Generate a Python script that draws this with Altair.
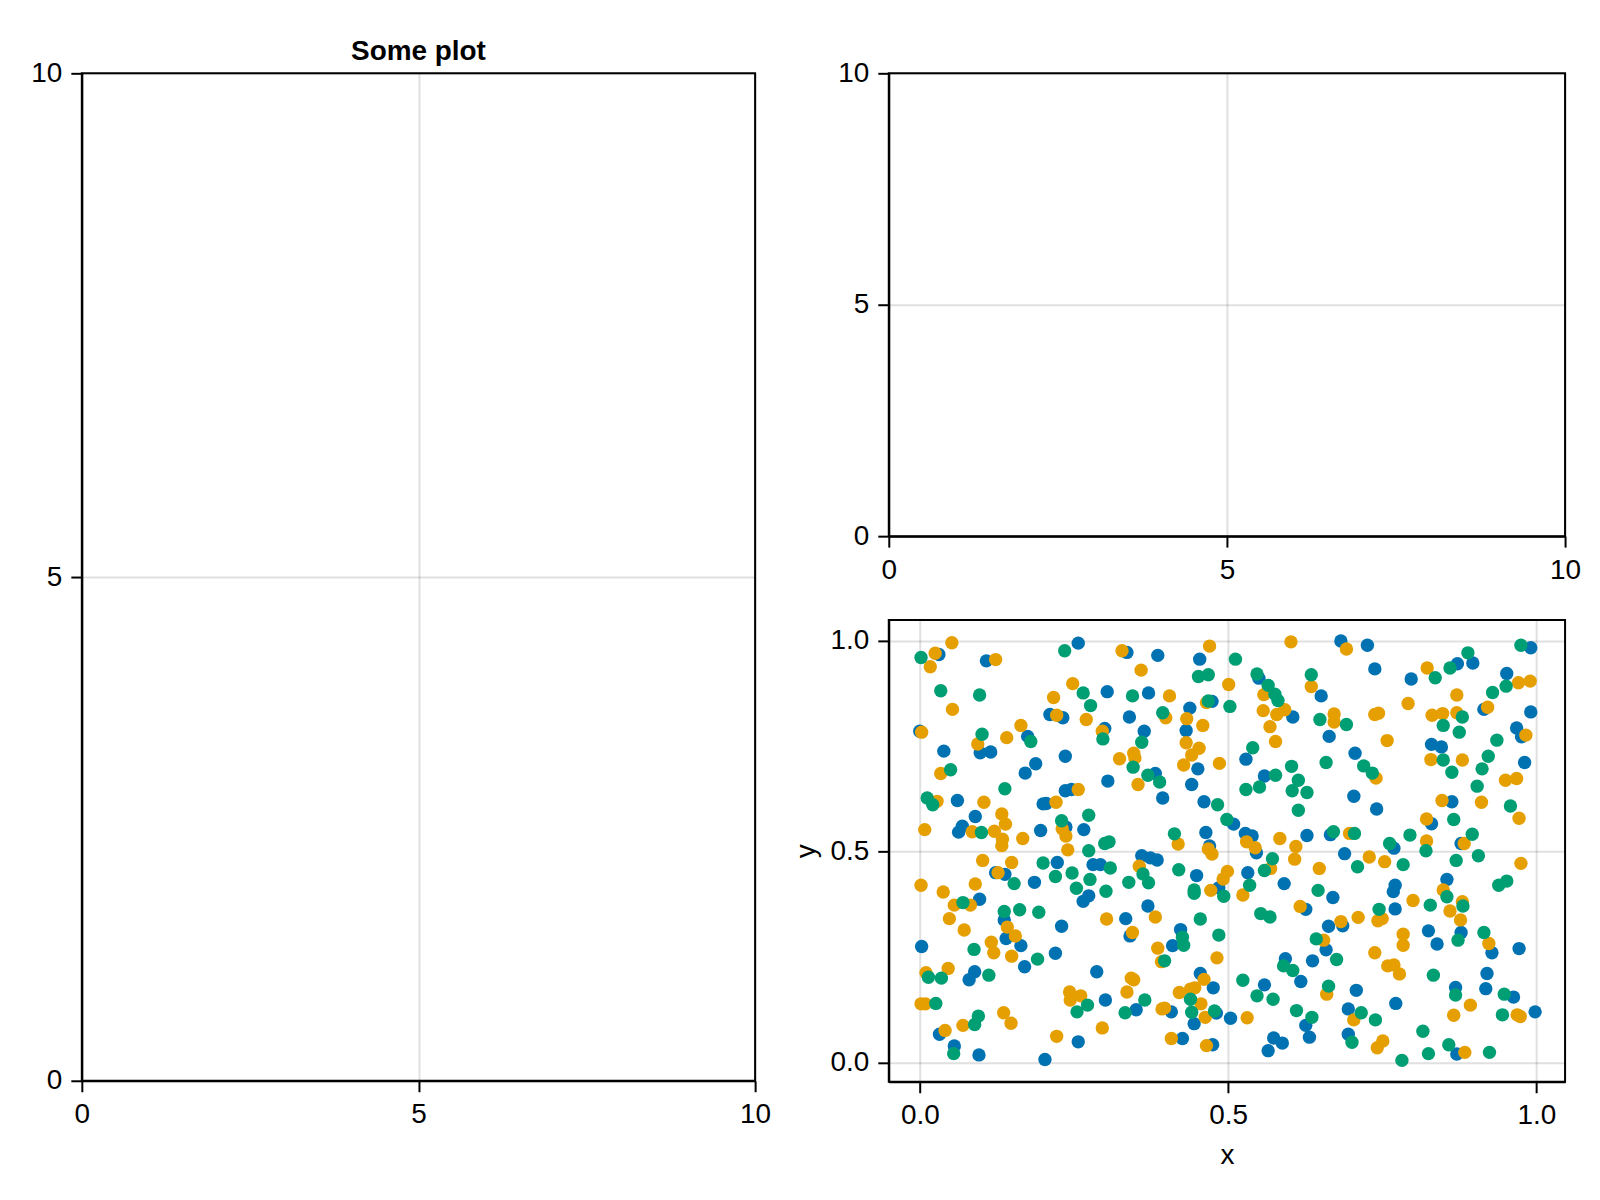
import altair as alt
import pandas as pd

# ---- data ----
limits = [0, 10]
panel_ticks = [0, 5, 10]
scatter_ticks = [0.0, 0.5, 1.0]
left_title = "Some plot"

blue_x = [0.031,0.108,0.257,0.304,0.211,0.232,0.300,0.000,0.175,0.098,0.115,0.039,0.236,0.188,0.171,
          0.336,0.386,0.454,0.550,0.371,0.474,0.651,0.438,0.340,0.605,0.364,0.432,0.664,0.529,0.451,0.382,0.559,
          0.683,0.726,0.738,0.872,0.897,0.797,0.991,0.952,0.915,0.991,0.968,0.976,0.830,0.846,0.706,0.981,
          0.305,0.236,0.246,0.061,0.200,0.205,0.090,0.069,0.063,0.196,0.237,0.266,0.223,0.281,0.293,0.123,0.138,0.186,0.274,0.265,0.097,0.137,0.230,
          0.441,0.394,0.461,0.509,0.464,0.470,0.528,0.539,0.546,0.628,0.666,0.360,0.374,0.385,0.449,0.485,0.532,0.591,0.670,0.370,0.334,0.626,0.663,0.423,
          0.704,0.741,0.863,0.830,0.769,0.878,0.689,0.855,0.771,0.768,0.771,0.686,0.825,0.878,
          0.140,0.164,0.003,0.220,0.170,0.089,0.080,0.287,0.301,0.032,0.056,0.096,0.203,0.257,
          0.341,0.410,0.455,0.351,0.408,0.476,0.445,0.481,0.426,0.475,0.504,0.559,0.593,0.618,0.637,0.659,0.626,0.632,0.574,0.588,0.565,
          0.839,0.928,0.972,0.920,0.869,0.918,0.963,0.708,0.695,0.772,0.998,0.695,0.871]
blue_y = [0.967,0.952,0.994,0.879,0.825,0.817,0.792,0.785,0.773,0.734,0.736,0.738,0.726,0.708,0.686,
          0.972,0.965,0.956,0.911,0.876,0.856,0.869,0.840,0.819,0.819,0.785,0.787,0.773,0.719,0.696,0.685,0.679,
          0.999,0.989,0.933,0.945,0.947,0.909,0.983,0.922,0.837,0.831,0.793,0.772,0.754,0.748,0.733,0.711,
          0.667,0.644,0.647,0.621,0.613,0.614,0.583,0.560,0.546,0.550,0.558,0.552,0.474,0.469,0.469,0.450,0.446,0.427,0.395,0.382,0.387,0.338,0.323,
          0.659,0.627,0.618,0.565,0.545,0.513,0.543,0.537,0.497,0.538,0.540,0.490,0.485,0.480,0.443,0.414,0.450,0.424,0.391,0.371,0.341,0.363,0.323,0.315,
          0.631,0.601,0.618,0.566,0.508,0.519,0.495,0.434,0.420,0.405,0.364,0.324,0.312,0.308,
          0.294,0.277,0.275,0.259,0.227,0.215,0.196,0.215,0.148,0.067,0.039,0.018,0.007,0.049,
          0.300,0.277,0.211,0.125,0.120,0.177,0.092,0.117,0.057,0.042,0.105,0.184,0.246,0.192,0.241,0.267,0.088,0.060,0.058,0.046,0.028,
          0.281,0.260,0.270,0.211,0.178,0.175,0.155,0.171,0.127,0.140,0.120,0.067,0.020]

orange_x = [0.052,0.025,0.017,0.123,0.053,0.248,0.217,0.222,0.270,0.296,0.003,0.164,0.141,0.094,0.034,
            0.328,0.470,0.602,0.359,0.635,0.501,0.405,0.465,0.558,0.399,0.433,0.557,0.579,0.592,0.672,0.672,0.459,0.568,0.432,0.453,0.441,0.577,0.324,0.347,0.349,0.428,0.486,
            0.692,0.823,0.971,0.990,0.871,0.792,0.738,0.744,0.831,0.848,0.871,0.921,0.983,0.758,0.829,0.880,
            0.257,0.028,0.104,0.221,0.133,0.139,0.008,0.085,0.121,0.134,0.133,0.167,0.231,0.237,0.240,0.102,0.149,0.127,0.002,0.038,0.090,0.056,0.082,0.048,0.303,0.072,0.142,
            0.354,0.419,0.468,0.474,0.530,0.544,0.584,0.610,0.608,0.356,0.499,0.492,0.472,0.569,0.524,0.648,0.382,0.617,0.683,0.345,
            0.740,0.950,0.968,0.847,0.911,0.972,0.822,0.697,0.822,0.883,0.729,0.754,0.975,0.849,0.800,0.880,0.860,0.877,0.711,0.743,0.750,
            0.155,0.116,0.120,0.149,0.046,0.010,0.002,0.009,0.243,0.244,0.261,0.136,0.148,0.070,0.041,0.222,0.296,
            0.386,0.392,0.482,0.461,0.343,0.347,0.336,0.393,0.397,0.421,0.439,0.446,0.456,0.463,0.408,0.465,0.531,0.655,0.660,
            0.784,0.923,0.784,0.738,0.759,0.769,0.778,0.704,0.893,0.866,0.969,0.974,0.751,0.742,0.884]
orange_y = [0.995,0.970,0.938,0.955,0.837,0.898,0.865,0.823,0.813,0.785,0.783,0.799,0.770,0.755,0.685,
            0.976,0.987,0.997,0.930,0.891,0.896,0.869,0.853,0.872,0.817,0.815,0.834,0.825,0.836,0.826,0.807,0.799,0.796,0.758,0.745,0.729,0.761,0.720,0.733,0.722,0.705,0.709,
            0.980,0.935,0.900,0.904,0.871,0.851,0.825,0.828,0.823,0.827,0.829,0.842,0.776,0.763,0.718,0.717,
            0.647,0.619,0.617,0.617,0.589,0.565,0.552,0.547,0.548,0.529,0.514,0.531,0.554,0.537,0.504,0.479,0.474,0.450,0.420,0.404,0.423,0.373,0.373,0.341,0.340,0.314,0.321,
            0.659,0.518,0.506,0.494,0.523,0.509,0.531,0.512,0.482,0.465,0.453,0.435,0.408,0.460,0.397,0.460,0.345,0.370,0.334,0.308,
            0.674,0.669,0.673,0.621,0.617,0.579,0.577,0.543,0.525,0.519,0.487,0.476,0.472,0.409,0.384,0.381,0.359,0.338,0.344,0.336,0.341,
            0.300,0.285,0.260,0.252,0.223,0.213,0.139,0.139,0.167,0.148,0.158,0.118,0.093,0.088,0.076,0.062,0.082,
            0.271,0.239,0.248,0.197,0.200,0.196,0.167,0.127,0.129,0.166,0.174,0.177,0.139,0.107,0.057,0.040,0.106,0.290,0.162,
            0.304,0.282,0.278,0.260,0.229,0.231,0.210,0.101,0.136,0.112,0.113,0.109,0.051,0.035,0.024]

green_x = [0.002,0.235,0.034,0.097,0.265,0.277,0.297,0.101,0.180,0.050,
           0.512,0.452,0.468,0.547,0.565,0.635,0.345,0.468,0.576,0.581,0.503,0.394,0.649,0.360,0.346,0.540,0.603,0.659,0.370,0.577,
           0.889,0.860,0.836,0.975,0.951,0.929,0.692,0.880,0.849,0.875,0.936,0.720,0.734,0.849,0.922,0.912,0.863,
           0.138,0.012,0.021,0.230,0.274,0.100,0.300,0.307,0.274,0.200,0.309,0.220,0.247,0.276,0.153,0.254,0.302,0.070,0.137,0.162,0.193,
           0.389,0.483,0.529,0.551,0.614,0.604,0.628,0.614,0.498,0.413,0.671,0.362,0.371,0.339,0.420,0.493,0.445,0.445,0.572,0.559,0.535,0.646,0.455,0.553,0.568,
           0.904,0.958,0.866,0.705,0.795,0.762,0.821,0.896,0.710,0.784,0.870,0.906,0.939,0.952,0.855,0.828,0.745,0.881,0.915,
           0.088,0.191,0.014,0.035,0.112,0.026,0.272,0.255,0.095,0.089,0.055,
           0.426,0.428,0.485,0.397,0.365,0.333,0.439,0.441,0.478,0.524,0.547,0.573,0.590,0.605,0.643,0.676,0.663,0.611,0.636,
           0.873,0.833,0.869,0.948,0.716,0.945,0.739,0.701,0.816,0.858,0.825,0.782,0.924]
green_y = [0.960,0.976,0.881,0.871,0.876,0.846,0.767,0.778,0.761,0.694,
           0.956,0.915,0.919,0.921,0.894,0.919,0.869,0.857,0.873,0.858,0.844,0.829,0.813,0.759,0.700,0.746,0.702,0.711,0.681,0.681,
           0.971,0.935,0.912,0.989,0.892,0.877,0.801,0.819,0.799,0.783,0.764,0.703,0.686,0.717,0.726,0.696,0.688,
           0.649,0.627,0.611,0.573,0.586,0.545,0.519,0.523,0.502,0.473,0.461,0.441,0.449,0.434,0.424,0.413,0.406,0.379,0.358,0.362,0.356,
           0.665,0.611,0.647,0.653,0.669,0.644,0.640,0.598,0.576,0.542,0.547,0.447,0.426,0.427,0.457,0.394,0.409,0.401,0.483,0.455,0.420,0.408,0.340,0.353,0.345,
           0.655,0.608,0.576,0.543,0.539,0.519,0.502,0.541,0.464,0.469,0.479,0.490,0.420,0.430,0.393,0.373,0.363,0.371,0.308,
           0.268,0.245,0.202,0.200,0.207,0.140,0.136,0.120,0.110,0.090,0.021,
           0.297,0.278,0.302,0.241,0.148,0.118,0.150,0.119,0.122,0.195,0.158,0.150,0.229,0.218,0.293,0.244,0.181,0.123,0.107,
           0.290,0.207,0.160,0.162,0.118,0.113,0.101,0.048,0.074,0.042,0.021,0.005,0.024]

series_names = ["s1", "s2", "s3"]
series_colors = ["#0072B2", "#E69F00", "#009E73"]

rows = []
for name, xs, ys in zip(series_names, [blue_x, orange_x, green_x], [blue_y, orange_y, green_y]):
    for xv, yv in zip(xs, ys):
        rows.append({"series": name, "x": xv, "y": yv})
scatter_df = pd.DataFrame(rows)
scatter_df["order"] = range(len(scatter_df))

empty_df = pd.DataFrame({"x": limits, "y": limits})
title_df = pd.DataFrame({"label": [left_title], "xc": [sum(limits) / 2]})

FONT = "Liberation Sans"


def empty_panel(w, h):
    return alt.Chart(empty_df).mark_point(opacity=0).encode(
        x=alt.X("x:Q", title=None, scale=alt.Scale(domain=limits, nice=False, zero=False),
                axis=alt.Axis(values=panel_ticks, format="d")),
        y=alt.Y("y:Q", title=None, scale=alt.Scale(domain=limits, nice=False, zero=False),
                axis=alt.Axis(values=panel_ticks, format="d")),
    ).properties(width=w, height=h)


left_base = empty_panel(675, 1010)
left_title_mark = alt.Chart(title_df).mark_text(
    font=FONT, fontSize=28, fontWeight="bold", color="black",
    baseline="alphabetic", align="center", dy=-13
).encode(
    x=alt.X("xc:Q"),
    y=alt.value(0),
    text="label:N",
)
left = alt.layer(left_base, left_title_mark).properties(width=675, height=1010)

top_right = empty_panel(678, 464)

scatter = alt.Chart(scatter_df).mark_circle(opacity=1, size=180).encode(
    x=alt.X("x:Q", title="x", scale=alt.Scale(domain=[-0.0503, 1.0466], nice=False, zero=False),
            axis=alt.Axis(values=scatter_ticks, format=".1f")),
    y=alt.Y("y:Q", title="y", scale=alt.Scale(domain=[-0.0457, 1.049], nice=False, zero=False),
            axis=alt.Axis(values=scatter_ticks, format=".1f")),
    color=alt.Color("series:N", scale=alt.Scale(domain=series_names, range=series_colors), legend=None),
    order=alt.Order("order:Q"),
).properties(width=678, height=463)

right = alt.vconcat(top_right, scatter, spacing=84, bounds="flush")

chart = alt.hconcat(left, right, spacing=134, bounds="flush").properties(
    padding={"left": 21, "top": 28, "right": 10, "bottom": 10}
).configure_view(
    stroke="black", strokeWidth=2
).configure_axis(
    labelFont=FONT, labelFontSize=28, labelColor="black", labelFlush=False, labelPadding=9,
    titleFont=FONT, titleFontSize=28, titleFontWeight="normal", titleColor="black",
    tickColor="black", tickSize=11, tickWidth=2,
    domainColor="black", domainWidth=2,
    grid=True, gridColor="black", gridOpacity=0.12, gridWidth=2,
).configure_axisX(
    titlePadding=12
).configure_axisY(
    titlePadding=10
)

chart.save("out.html", embed_options={"renderer": "svg", "actions": False})
